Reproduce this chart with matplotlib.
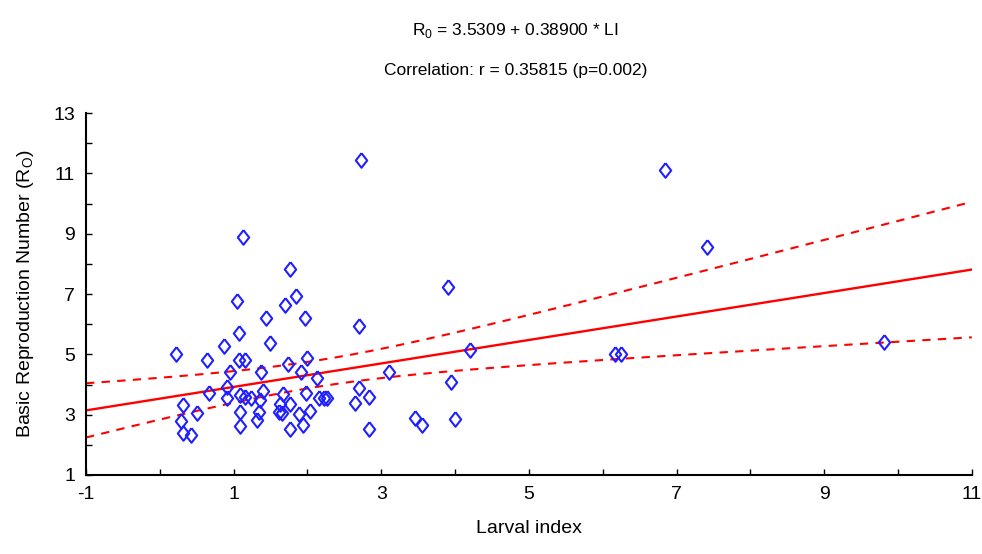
import numpy as np
from matplotlib import pyplot as plt

plt.rcParams['font.family'] = ['Liberation Sans Narrow', 'Liberation Sans', 'DejaVu Sans']
plt.rcParams['axes.unicode_minus'] = False

# larval index and R0
larval_index = [0.22, 0.31, 0.28, 0.32, 0.42, 0.51, 0.64, 0.66, 0.87, 0.91,
                0.95, 0.91, 1.05, 1.07, 1.07, 1.15, 1.12, 1.09, 1.08, 1.09,
                1.15, 1.24, 1.34, 1.32, 1.36, 1.37, 1.40, 1.44, 1.49, 1.70,
                1.84, 1.77, 1.73, 1.67, 1.63, 1.76, 1.61, 1.65, 1.77, 1.88,
                1.91, 1.97, 2.00, 1.98, 1.94, 2.04, 2.13, 2.16, 2.22, 2.27,
                2.70, 2.72, 2.70, 2.65, 2.84, 2.84, 3.11, 3.46, 3.55, 3.90,
                3.95, 4.00, 4.20, 6.17, 6.25, 6.85, 7.41, 9.81]
r0 = [5.01, 3.32, 2.80, 2.38, 2.32, 3.06, 4.81, 3.71, 5.28, 3.93,
      4.42, 3.54, 6.77, 5.70, 4.81, 4.81, 8.90, 3.65, 3.10, 2.63,
      3.58, 3.54, 3.10, 2.82, 3.49, 4.40, 3.79, 6.21, 5.39, 6.63,
      6.94, 7.83, 4.68, 3.68, 3.35, 3.35, 3.10, 3.07, 2.53, 3.02,
      4.40, 6.21, 4.87, 3.71, 2.66, 3.12, 4.21, 3.54, 3.54, 3.54,
      5.95, 11.45, 3.87, 3.40, 3.60, 2.52, 4.40, 2.88, 2.66, 7.23,
      4.07, 2.87, 5.14, 5.01, 5.01, 11.11, 8.56, 5.40]

intercept = 3.5309
slope = 0.38900
r_value = 0.35815
p_value = 0.002

x = np.array(larval_index)
y = np.array(r0)
n = len(x)

# 95% confidence band around the regression line
xs = np.linspace(-1, 11, 200)
fit = intercept + slope * xs
resid = y - (intercept + slope * x)
s = np.sqrt(np.sum(resid ** 2) / (n - 2))
sxx = np.sum((x - x.mean()) ** 2)
half = 1.997 * s * np.sqrt(1.0 / n + (xs - x.mean()) ** 2 / sxx)

# hollow diamond, a bit narrower than tall
diamond = [(0, 1), (0.78, 0), (0, -1), (-0.78, 0), (0, 1)]

fig = plt.figure(figsize=(9.82, 5.54), dpi=100)
ax = fig.add_axes([0.0876, 0.1426, 0.902, 0.6534])

ax.plot(xs, fit, color='#ff0000', lw=1.7)
ax.plot(xs, fit + half, color='#ff0000', lw=1.5, ls=(0, (4, 3.5)))
ax.plot(xs, fit - half, color='#ff0000', lw=1.5, ls=(0, (4, 3.5)))
ax.plot(x, y, ls='none', marker=diamond, ms=10.5, mfc='none', mec='#1f1fff', mew=1.5)

ax.set_xlim(-1, 11)
ax.set_ylim(1, 13)
ax.set_xticks(range(-1, 12, 2))
ax.set_yticks(range(1, 14, 2))
ax.set_xticks(range(0, 11, 2), minor=True)
ax.set_yticks(range(2, 13, 2), minor=True)
ax.tick_params(which='both', direction='in', length=4, width=1, labelsize=14, pad=8)
ax.spines['top'].set_visible(False)
ax.spines['right'].set_visible(False)
ax.spines['left'].set_linewidth(1.5)
ax.spines['bottom'].set_linewidth(1.5)

ax.set_xlabel('Larval index', fontsize=14, labelpad=12)
ax.set_ylabel(r'Basic Reproduction Number (R$_\mathregular{O}$)', fontsize=14, labelpad=12)

fig.text(0.525, 0.945, r'R$_\mathregular{0}$ = %.4f + %.5f * LI' % (intercept, slope),
         ha='center', va='center', fontsize=12.5)
fig.text(0.525, 0.873, 'Correlation: r = %.5f (p=%.3f)' % (r_value, p_value),
         ha='center', va='center', fontsize=12.5)

plt.savefig('out.png', dpi=100)
